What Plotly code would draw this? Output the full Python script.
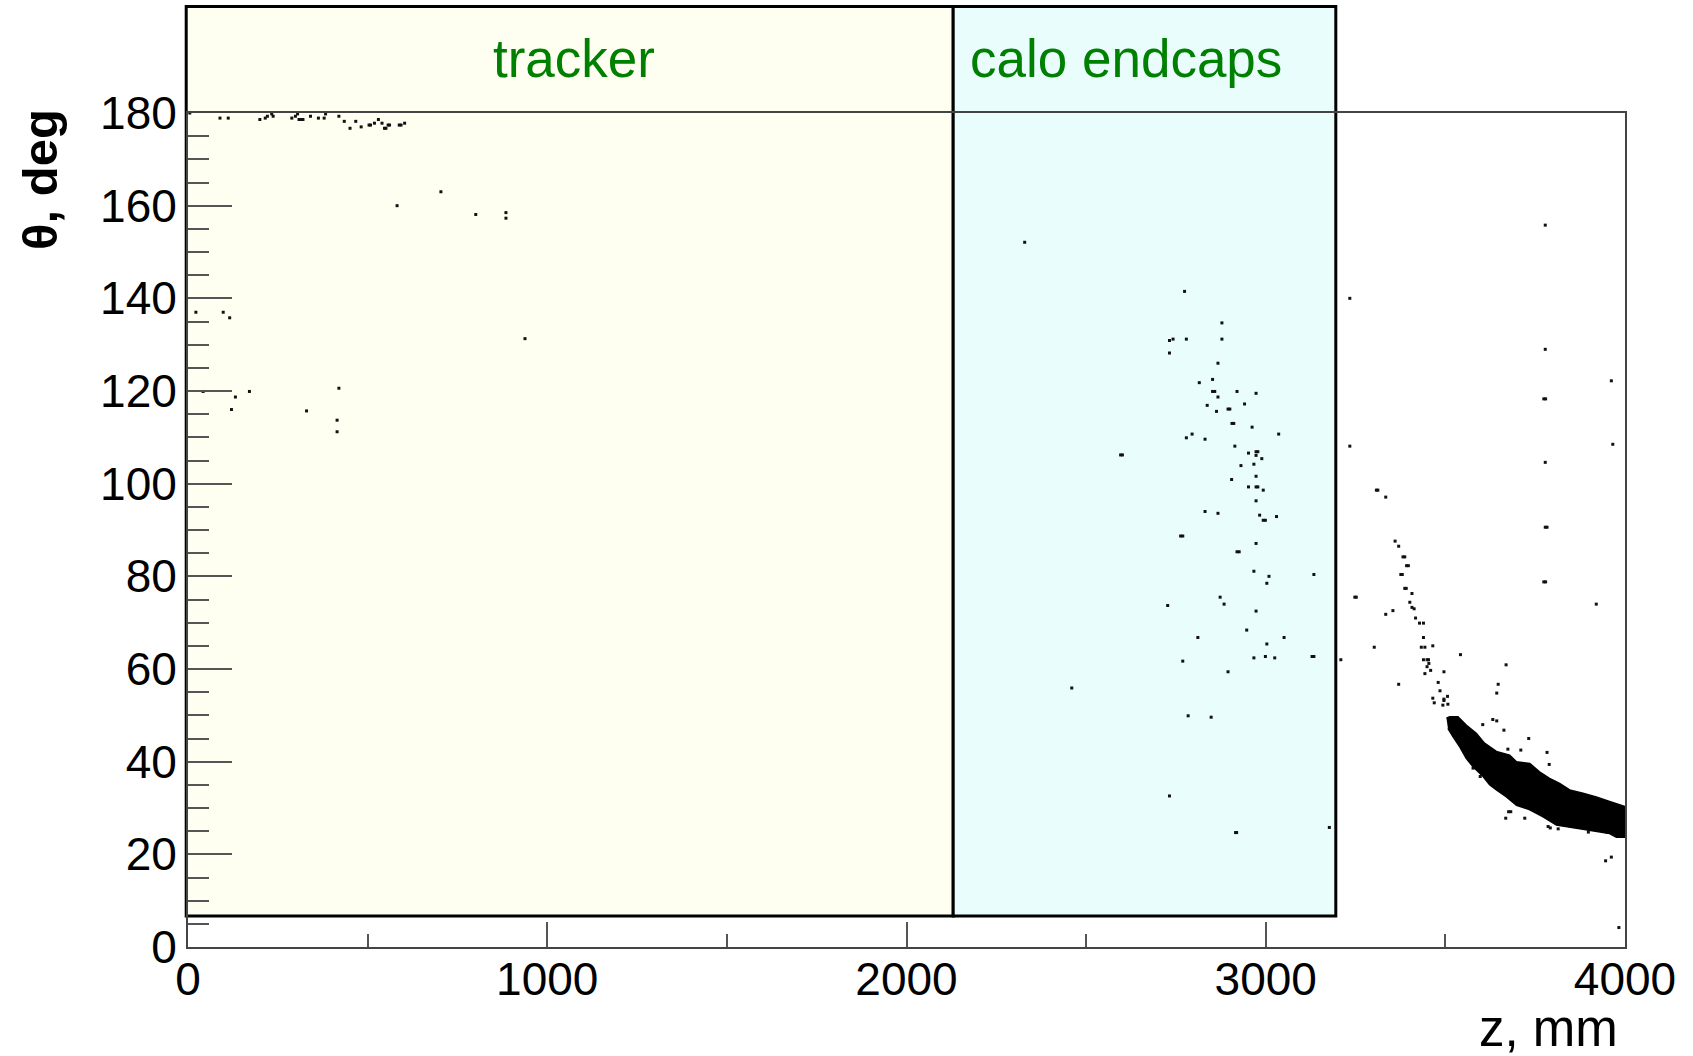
import plotly.graph_objects as go

# ---------------- data ----------------
X_RANGE = [0, 4000]          # z, mm
Y_RANGE = [0, 180]           # theta, deg

REGION_NAMES = ["tracker", "calo endcaps"]
REGION_Z = [[-5, 2130], [2130, 3195]]
REGION_THETA = [6.7, 203]
REGION_LABEL_Z = [1075, 2610]
REGION_FILLS = ["#FFFFF1", "#EAFDFD"]

tracker_hits = [
    (5, 180), (89, 178.9), (112, 178.9), (200, 178.6), (215, 178.9), (221, 179.3), (233, 179.8),
    (237, 179.3), (289, 178.9), (299, 179.3), (305, 179.8), (309, 178.6), (315, 178.6), (320, 178.6),
    (341, 179.3), (363, 178.9), (379, 178.9), (383, 179.8), (420, 179.3), (435, 178.2), (451, 176.7),
    (467, 178.2), (482, 177.0), (504, 177.4), (508, 177.4), (519, 177.8), (530, 178.6), (540, 177.8),
    (547, 176.7), (551, 176.7), (557, 177.4), (561, 177.4), (588, 177.4), (593, 177.4), (603, 177.8),
    (704, 163.0), (582, 160.0), (801, 158.1), (885, 158.5), (885, 157.3), (22, 137.0), (98, 137.0),
    (116, 135.8), (938, 131.3), (42, 119.9), (171, 119.9), (420, 120.6), (132, 118.7), (121, 116.0),
    (330, 115.7), (415, 113.7), (415, 111.2),
]

calo_hits = [
    (2329, 152.1), (2460, 55.9), (2774, 141.5), (2878, 134.7), (2732, 130.9), (2742, 131.2),
    (2779, 131.2), (2878, 131.2), (2732, 128.2), (2867, 126.0), (2852, 122.5), (2815, 121.8),
    (2852, 119.9), (2858, 119.9), (2920, 119.9), (2973, 119.5), (2867, 118.7), (2837, 116.9),
    (2941, 117.2), (2863, 115.6), (2895, 116.1), (2900, 116.1), (2906, 113.0), (2911, 113.0),
    (2962, 112.2), (2795, 110.7), (3036, 110.7), (2779, 109.9), (2831, 109.6), (2914, 108.1),
    (2596, 106.2), (2601, 106.2), (2952, 106.6), (2973, 106.9), (2978, 106.9), (2973, 106.1),
    (2989, 105.4), (2967, 104.2), (2931, 103.9), (2973, 101.6), (2905, 100.9), (2952, 99.3),
    (2973, 99.3), (2978, 99.3), (2993, 98.6), (2973, 96.3), (2831, 94.0), (2867, 93.6),
    (2983, 93.2), (3030, 92.9), (2993, 92.1), (2999, 92.1), (2763, 88.7), (2769, 88.7),
    (2973, 87.1), (2920, 85.3), (2926, 85.3), (2967, 81.1), (3009, 80.0), (3134, 80.4),
    (3003, 78.5), (2873, 75.5), (2727, 73.7), (2884, 74.0), (2973, 72.5), (2947, 68.4),
    (2811, 66.8), (3051, 66.8), (3003, 65.4), (2967, 62.4), (2999, 62.7), (3025, 62.4),
    (3129, 62.7), (3134, 62.7), (2769, 61.7), (2895, 59.4), (2784, 49.9), (2848, 49.6),
    (2732, 32.6), (2916, 24.7), (2919, 24.7), (3177, 25.8),
]

outer_hits = [
    (3234, 140.0), (3778, 155.8), (3778, 129.0), (3962, 122.2), (3774, 118.3), (3779, 118.3),
    (3234, 108.1), (3966, 108.5), (3778, 104.6), (3308, 98.6), (3312, 98.6), (3334, 97.1),
    (3778, 90.6), (3783, 90.6), (3360, 87.6), (3370, 86.5), (3382, 84.2), (3387, 84.2),
    (3392, 82.3), (3397, 82.3), (3376, 80.4), (3380, 80.4), (3774, 78.8), (3779, 78.8),
    (3387, 77.4), (3391, 77.4), (3407, 76.3), (3248, 75.5), (3252, 75.5), (3920, 74.0),
    (3401, 74.4), (3407, 73.3), (3413, 73.0), (3334, 71.8), (3354, 72.6), (3417, 71.0),
    (3428, 69.9), (3439, 69.9), (3439, 66.8), (3302, 64.7), (3433, 64.7), (3443, 64.7),
    (3465, 65.0), (3542, 63.1), (3209, 62.0), (3439, 62.0), (3449, 62.0), (3453, 62.0),
    (3454, 61.2), (3449, 60.5), (3459, 59.7), (3496, 59.4), (3443, 59.0), (3669, 60.9),
    (3370, 56.7), (3480, 57.1), (3647, 56.7), (3485, 55.3), (3643, 54.8), (3506, 54.1),
    (3465, 53.7), (3496, 53.5), (3496, 53.2), (3507, 52.4), (3469, 52.7), (3493, 52.2),
    (3632, 49.1), (3643, 48.8), (3663, 46.8), (3604, 48.0), (3732, 45.0), (3710, 42.5),
    (3674, 42.7), (3783, 42.0), (3789, 39.4), (3668, 27.8), (3721, 27.8), (3786, 26.0),
    (3792, 25.7), (3853, 26.0), (3898, 24.8), (3949, 24.8), (3682, 29.2), (3676, 29.2),
    (3597, 36.8), (3577, 38.6), (3946, 18.6), (3962, 19.4), (3983, 4.2), (3814, 25.5),
]

# outline of the dense band of hits (upper edge, then lower edge back)
band_z = [3503, 3512, 3535, 3558, 3586, 3609, 3642, 3679, 3698, 3735, 3762, 3790, 3818, 3846,
          3883, 3920, 3957, 4000, 4000, 3976, 3957, 3892, 3846, 3809, 3772, 3735, 3698, 3670,
          3642, 3623, 3605, 3577, 3558, 3540, 3521, 3507]
band_theta = [49.4, 49.7, 49.7, 47.9, 46.1, 44.0, 42.2, 41.4, 40.0, 39.6, 37.8, 36.4, 35.3, 33.9,
              33.2, 32.4, 31.4, 30.3, 23.7, 23.7, 24.5, 25.3, 26.0, 26.3, 28.1, 29.6, 30.6, 32.4,
              33.9, 35.0, 36.8, 38.9, 40.7, 43.2, 45.4, 47.2]

X_TITLE = "z, mm"
Y_TITLE = "θ, deg"

# ---------------- figure ----------------
FONT = "Liberation Sans, Arial, sans-serif"
fig = go.Figure()

all_hits = tracker_hits + calo_hits + outer_hits
fig.add_trace(go.Scatter(
    x=[p[0] for p in all_hits], y=[p[1] for p in all_hits], mode="markers",
    marker=dict(symbol="square", size=3, color="#111111", line=dict(width=0)),
    showlegend=False, hoverinfo="skip"))

fig.add_trace(go.Scatter(
    x=band_z, y=band_theta, mode="lines", fill="toself", fillcolor="black",
    line=dict(color="black", width=1.5), showlegend=False, hoverinfo="skip"))

def xfrac(v):
    return (v - X_RANGE[0]) / (X_RANGE[1] - X_RANGE[0])

def yfrac(v):
    return (v - Y_RANGE[0]) / (Y_RANGE[1] - Y_RANGE[0])

for (z0, z1), fill in zip(REGION_Z, REGION_FILLS):
    fig.add_shape(type="rect", xref="x domain", yref="y domain",
                  x0=xfrac(z0), x1=xfrac(z1), y0=yfrac(REGION_THETA[0]), y1=yfrac(REGION_THETA[1]),
                  fillcolor=fill, line=dict(color="black", width=3), layer="below")

for name, zc in zip(REGION_NAMES, REGION_LABEL_Z):
    fig.add_annotation(x=zc, xref="x", y=1.065, yref="paper", text=name, showarrow=False,
                       xanchor="center", yanchor="middle",
                       font=dict(family=FONT, size=53, color="#008000"))

fig.add_annotation(x=-0.103, xref="paper", y=0.921, yref="paper", text="<b>" + Y_TITLE + "</b>",
                   textangle=-90, showarrow=False, xanchor="center", yanchor="middle",
                   font=dict(family=FONT, size=49, color="black"))
fig.add_annotation(x=0.9965, xref="paper", y=-0.098, yref="paper", text=X_TITLE,
                   showarrow=False, xanchor="right", yanchor="middle",
                   font=dict(family=FONT, size=51, color="black"))

axis_common = dict(showgrid=False, zeroline=False, showline=True, linecolor="#444444",
                   linewidth=2, mirror=True, ticks="inside", tickcolor="#555555", tickwidth=2,
                   tickfont=dict(family=FONT, size=46, color="black"))

fig.update_xaxes(range=X_RANGE, tick0=0, dtick=1000, ticklen=25, ticklabelstandoff=-9,
                 minor=dict(dtick=500, ticklen=13, ticks="inside", tickcolor="#555555", tickwidth=2),
                 **axis_common)
fig.update_yaxes(range=Y_RANGE, tick0=0, dtick=20, ticklen=44,
                 minor=dict(dtick=5, ticklen=21, ticks="inside", tickcolor="#555555", tickwidth=2),
                 **axis_common)

fig.update_layout(width=1693, height=1056, margin=dict(l=188, r=68, t=113, b=109, pad=0),
                  paper_bgcolor="white", plot_bgcolor="rgba(0,0,0,0)", showlegend=False)

fig.write_html("out.html")
